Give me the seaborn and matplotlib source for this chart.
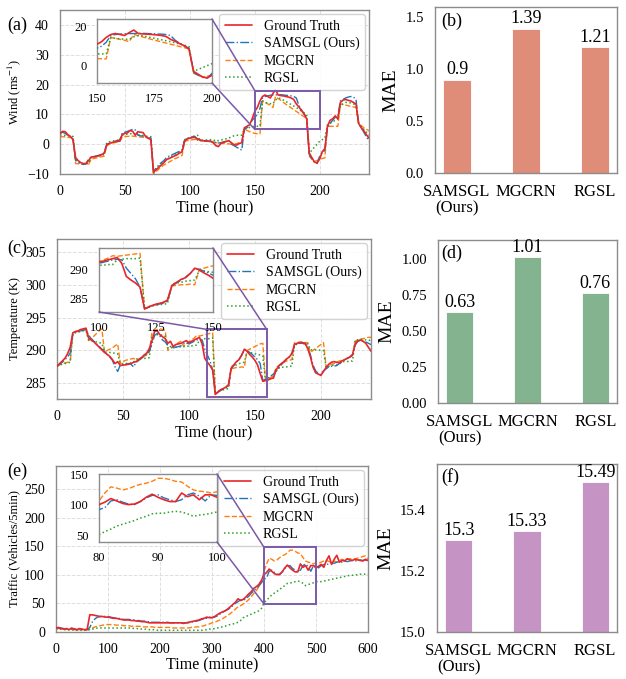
import numpy as np
import matplotlib
matplotlib.use("Agg")
import matplotlib.pyplot as plt
import seaborn as sns
from matplotlib.patches import Rectangle, ConnectionPatch

# ---------------- data ----------------
series_labels = ["Ground Truth", "SAMSGL (Ours)", "MGCRN", "RGSL"]
bar_models = ["SAMSGL\n(Ours)", "MGCRN", "RGSL"]

hours = np.arange(0, 240, 2)

wind_gt = [3.5, 4.3, 4.2, 3.2, 2.6, 1.5, -4.5, -5.5, -6.2, -6.5,
           -6.5, -5.5, -4.3, -4.2, -4.0, -3.9, -3.5, -3.0, -0.3, 0.3,
           0.5, 0.8, 1.0, 1.0, 3.3, 3.6, 3.8, 4.6, 4.3, 3.0,
           4.2, 4.0, 3.9, 2.5, 2.0, 1.5, -9.4, -8.6, -7.8, -7.0,
           -6.2, -5.2, -4.8, -4.4, -4.0, -3.6, -3.0, -2.5, 1.0, 1.8,
           2.0, 2.2, 2.3, 1.8, 1.4, 1.2, 1.1, 1.0, 0.9, 0.5,
           -0.5, -0.8, 0.3, 0.6, 0.9, 1.2, 0.5, -0.2, -0.3, 0.2,
           0.5, 5.5, 6.0, 6.5, 8.5, 11.0, 12.3, 14.5, 16.0, 16.5,
           16.0, 15.5, 17.0, 18.3, 16.5, 16.3, 16.2, 16.0, 15.8, 15.5,
           15.0, 13.5, 12.5, 11.3, 10.2, 8.5, -3.0, -4.5, -6.0, -6.3,
           -5.0, -2.5, -1.5, 6.0, 8.0, 8.5, 9.5, 8.5, 14.0, 14.8,
           15.0, 14.7, 14.5, 14.0, 13.5, 7.0, 5.5, 4.5, 3.2, 2.0]
wind_samsgl = [3.8, 4.0, 3.6, 3.0, 2.5, 2.0, -5.5, -6.0, -6.5, -6.8,
               -6.5, -5.0, -4.5, -4.3, -4.0, -3.7, -3.4, -3.0, 0.0, 0.3,
               0.6, 0.9, 1.2, 1.4, 3.8, 4.0, 4.3, 4.6, 5.0, 4.8,
               3.0, 2.8, 2.7, 2.5, 2.3, 2.0, -9.0, -8.0, -7.0, -6.2,
               -5.5, -4.5, -4.0, -3.6, -3.2, -2.8, -2.4, -2.0, 1.5, 2.0,
               2.3, 2.5, 2.6, 1.3, 1.2, 1.1, 1.0, 1.0, 1.0, 0.9,
               0.5, 0.4, 0.5, 0.8, 1.0, 1.2, 0.0, -0.5, -1.0, -1.5,
               -2.0, 5.0, 5.5, 6.5, 8.0, 9.0, 10.0, 12.0, 15.5, 16.0,
               16.2, 16.4, 16.5, 16.5, 16.6, 16.6, 16.5, 16.4, 16.3, 16.2,
               16.0, 15.5, 13.0, 11.5, 10.0, 9.0, -3.5, -5.0, -6.0, -6.5,
               -4.0, -3.0, -2.0, 5.5, 7.0, 8.0, 9.0, 9.5, 14.5, 15.0,
               15.5, 15.8, 16.0, 15.8, 15.0, 7.0, 5.5, 4.0, 2.5, 1.0]
wind_mgcrn = [2.5, 2.5, 2.4, 2.3, 2.2, 2.0, -6.5, -6.6, -6.7, -6.7,
              -6.8, -6.8, -5.0, -4.8, -4.6, -4.4, -4.2, -4.0, -0.5, 0.0,
              0.3, 0.5, 0.7, 0.8, 2.5, 2.6, 2.6, 2.7, 2.7, 2.6,
              2.5, 2.4, 2.3, 2.2, 2.1, 2.0, -10.0, -9.2, -8.4, -7.6,
              -7.0, -6.5, -6.0, -5.5, -5.0, -4.6, -4.2, -3.8, 1.0, 1.2,
              1.4, 1.5, 1.6, 1.6, 1.2, 1.1, 1.0, 1.0, 0.9, 0.8,
              0.5, 0.4, 0.3, 0.2, 0.2, 0.1, 0.0, 0.0, 0.2, 0.5,
              0.8, 5.0, 4.6, 4.2, 3.9, 3.6, 3.5, 3.4, 14.5, 14.0,
              13.5, 13.0, 12.3, 16.0, 15.3, 14.7, 14.0, 13.4, 12.8, 12.2,
              11.6, 11.0, 10.4, 9.8, 9.2, 8.5, -4.0, -5.0, -5.8, -5.5,
              -5.0, -4.8, -4.6, 6.0, 6.0, 6.0, 6.0, 6.0, 13.5, 13.3,
              13.1, 12.9, 12.7, 12.5, 12.3, 7.0, 6.2, 5.5, 5.0, 4.5]
wind_rgsl = [3.0, 3.0, 2.9, 2.8, 2.7, 2.6, -5.0, -6.0, -6.5, -6.6,
             -6.6, -6.5, -4.5, -4.3, -4.1, -3.9, -3.7, -3.5, 0.5, 0.8,
             1.0, 1.2, 1.3, 1.4, 3.0, 3.2, 3.4, 3.5, 3.5, 3.3,
             3.2, 3.0, 2.9, 2.7, 2.6, 2.5, -9.5, -8.5, -7.5, -6.5,
             -5.8, -5.2, -4.6, -4.0, -3.5, -3.0, -2.5, -2.0, 1.5, 1.8,
             2.0, 2.5, 2.8, 3.0, 1.2, 1.3, 1.4, 1.5, 1.5, 1.5,
             1.0, 1.2, 1.4, 1.6, 1.8, 2.0, 2.5, 2.8, 3.0, 3.0,
             3.0, 5.0, 5.3, 5.6, 5.8, 6.0, 6.0, 6.0, 14.5, 14.0,
             13.8, 13.6, 13.5, 14.8, 15.5, 15.3, 14.8, 14.3, 13.8, 13.3,
             12.8, 12.3, 11.7, 11.1, 10.5, 9.8, -3.0, -2.0, -1.0, 0.0,
             1.0, 1.5, 2.0, 6.5, 7.0, 7.5, 8.0, 8.5, 13.0, 13.5,
             14.0, 14.0, 13.8, 13.5, 13.0, 7.0, 6.0, 5.0, 4.0, 3.0]

temp_gt = [287.6, 288.0, 288.4, 288.8, 289.5, 290.5, 292.7, 292.9, 293.0, 293.2,
           293.3, 293.4, 291.9, 291.6, 291.3, 290.9, 290.5, 290.1, 289.7, 289.4,
           289.1, 288.6, 288.0, 288.3, 287.7, 287.8, 287.8, 287.9, 288.0, 288.2,
           288.3, 288.6, 288.9, 289.3, 289.6, 290.3, 291.5, 292.9, 293.0, 292.4,
           292.1, 291.8, 291.1, 291.4, 290.6, 290.9, 291.0, 291.1, 291.3, 291.5,
           291.2, 291.4, 291.6, 291.8, 292.0, 291.0, 288.8, 288.2, 287.7, 287.0,
           283.3, 283.7, 284.0, 284.2, 284.4, 284.8, 287.3, 287.8, 288.3, 288.6,
           289.3, 290.2, 289.9, 289.4, 289.0, 288.5, 287.8, 286.5, 285.3, 285.4,
           285.5, 285.7, 285.8, 287.0, 287.6, 288.0, 288.3, 288.7, 289.0, 289.5,
           290.9, 291.1, 291.2, 291.2, 291.1, 290.3, 289.1, 287.5, 286.6, 286.4,
           286.2, 286.8, 287.4, 287.9, 288.2, 288.3, 288.2, 288.1, 288.4, 288.6,
           288.8, 289.0, 289.4, 291.0, 291.5, 291.6, 291.4, 291.1, 290.5, 289.9]
temp_samsgl = [287.6, 287.9, 288.2, 288.6, 289.0, 289.6, 292.5, 292.8, 292.9, 293.0,
               293.1, 293.2, 292.3, 291.8, 291.4, 291.0, 290.6, 290.2, 289.8, 289.4,
               289.0, 288.5, 287.5, 286.8, 287.8, 287.8, 287.9, 288.0, 287.9, 287.5,
               288.2, 288.5, 288.8, 289.1, 289.4, 289.9, 291.0, 292.3, 292.6, 292.2,
               291.6, 291.3, 290.8, 290.6, 290.4, 290.5, 290.6, 290.7, 291.0, 291.2,
               291.0, 291.2, 291.4, 291.6, 291.7, 291.6, 290.2, 289.3, 288.4, 287.0,
               283.4, 283.6, 283.9, 284.1, 284.3, 284.6, 287.2, 287.7, 288.2, 288.7,
               289.3, 290.1, 290.0, 289.7, 289.4, 289.0, 288.6, 288.0, 285.4, 285.6,
               285.8, 286.1, 286.4, 286.8, 287.3, 287.8, 288.3, 288.7, 289.0, 289.6,
               290.6, 291.0, 291.1, 291.1, 291.0, 290.5, 289.4, 287.8, 286.9, 286.5,
               286.3, 286.9, 287.2, 287.5, 287.6, 287.6, 287.7, 288.0, 288.3, 288.6,
               288.8, 289.0, 289.3, 290.8, 291.4, 291.5, 291.4, 291.3, 291.1, 290.9]
temp_mgcrn = [287.6, 287.8, 288.0, 288.1, 288.2, 288.3, 292.6, 292.8, 292.9, 293.0,
              293.1, 293.2, 291.5, 291.8, 292.2, 292.6, 293.0, 293.3, 289.8, 290.0,
              290.2, 290.4, 290.7, 291.0, 288.0, 288.3, 288.5, 288.6, 288.7, 288.8,
              288.5, 288.7, 288.9, 289.1, 289.4, 289.7, 292.8, 293.1, 293.2, 293.3,
              293.2, 293.0, 290.0, 290.3, 290.6, 290.9, 291.2, 291.4, 290.6, 291.0,
              291.3, 291.6, 291.9, 292.3, 292.2, 292.3, 292.4, 292.5, 292.6, 292.7,
              283.3, 283.7, 284.0, 284.2, 284.4, 284.6, 287.2, 287.3, 287.4, 287.4,
              287.5, 287.4, 290.0, 290.2, 290.4, 290.6, 290.8, 291.0, 291.1, 285.5,
              285.7, 285.9, 286.1, 287.4, 287.7, 288.0, 288.2, 288.4, 288.5, 288.6,
              291.2, 291.2, 291.3, 291.3, 291.2, 291.2, 289.7, 290.0, 290.3, 290.6,
              290.9, 291.2, 287.5, 287.7, 287.9, 288.0, 288.2, 288.4, 288.5, 288.6,
              288.8, 289.0, 289.2, 291.4, 291.6, 291.7, 291.8, 291.9, 292.0, 292.0]
temp_rgsl = [287.6, 287.8, 287.9, 288.0, 288.1, 288.2, 292.6, 292.7, 292.8, 292.9,
             293.0, 293.0, 291.6, 291.5, 291.4, 291.3, 291.2, 291.1, 289.8, 289.7,
             289.7, 289.6, 289.6, 289.5, 288.0, 288.0, 288.0, 288.1, 288.1, 288.2,
             288.7, 288.7, 288.8, 288.8, 288.8, 288.9, 292.3, 292.4, 292.4, 292.4,
             292.3, 292.2, 290.4, 290.4, 290.5, 290.5, 290.5, 290.6, 290.6, 290.6,
             290.7, 290.7, 290.8, 290.8, 291.6, 291.7, 291.8, 291.8, 291.8, 291.9,
             283.4, 283.7, 283.9, 284.0, 284.1, 284.2, 287.5, 287.7, 287.8, 288.0,
             288.1, 288.2, 289.8, 289.7, 289.6, 289.5, 289.4, 289.3, 289.2, 285.5,
             285.6, 285.7, 285.8, 287.2, 287.3, 287.4, 287.5, 287.5, 287.6, 287.6,
             291.0, 291.1, 291.1, 291.1, 291.0, 291.0, 290.1, 290.1, 290.1, 290.1,
             290.0, 290.0, 287.4, 287.6, 287.7, 287.8, 287.8, 287.9, 288.3, 288.3,
             288.3, 288.4, 288.4, 291.6, 291.6, 291.7, 291.7, 291.6, 291.6, 291.5]

traffic_steps = np.arange(121)          # 5-minute steps
traffic_minutes = traffic_steps * 5

traffic_gt = [7, 8, 6, 5, 6, 4, 7, 5, 4, 6,
              5, 4, 5, 30, 30, 29, 28, 27, 27, 26,
              26, 25, 24, 24, 23, 22, 21, 21, 21, 20,
              20, 19, 19, 18, 18, 17, 16, 16, 16, 16,
              16, 16, 16, 16, 16, 16, 16, 16, 16, 15,
              16, 17, 18, 19, 20, 21, 23, 24, 26, 25,
              25, 27, 30, 33, 35, 37, 40, 44, 48, 52,
              58, 55, 57, 61, 66, 70, 76, 79, 83, 90,
              100, 104, 110, 106, 102, 100, 101, 105, 112, 117,
              112, 108, 105, 105, 119, 113, 116, 108, 116, 116,
              112, 115, 118, 113, 125, 133, 118, 127, 134, 122,
              125, 124, 128, 126, 125, 127, 126, 125, 124, 127,
              125]
traffic_samsgl = [8, 7, 7, 6, 5, 6, 5, 6, 4, 5,
                  5, 4, 4, 8, 18, 23, 26, 27, 28, 27,
                  27, 26, 25, 24, 24, 23, 22, 22, 22, 21,
                  21, 20, 20, 19, 19, 18, 18, 17, 17, 17,
                  17, 17, 17, 17, 16, 16, 16, 16, 16, 16,
                  16, 16, 17, 18, 19, 20, 22, 23, 24, 26,
                  25, 26, 28, 31, 34, 37, 39, 42, 46, 50,
                  53, 56, 55, 58, 62, 67, 72, 76, 80, 86,
                  92, 95, 106, 108, 104, 101, 100, 105, 111, 115,
                  116, 111, 108, 105, 108, 116, 119, 114, 106, 116,
                  115, 112, 116, 118, 117, 120, 121, 120, 122, 123,
                  122, 124, 123, 124, 125, 124, 125, 126, 125, 126,
                  124]
traffic_mgcrn = [6, 6, 5, 5, 5, 4, 5, 4, 4, 4,
                 4, 3, 4, 5, 7, 9, 10, 11, 12, 13,
                 13, 13, 13, 12, 12, 12, 11, 11, 11, 10,
                 10, 10, 10, 9, 9, 9, 9, 9, 8, 8,
                 8, 8, 8, 8, 8, 7, 7, 7, 7, 7,
                 7, 7, 8, 8, 9, 9, 10, 11, 13, 14,
                 16, 17, 19, 21, 23, 26, 29, 32, 36, 40,
                 44, 46, 49, 52, 56, 61, 67, 72, 79, 88,
                 106, 119, 129, 127, 124, 126, 130, 133, 135, 138,
                 143, 143, 141, 138, 137, 130, 124, 122, 121, 119,
                 121, 120, 122, 124, 125, 123, 122, 124, 122, 125,
                 127, 126, 127, 128, 127, 128, 129, 130, 132, 133,
                 128]
traffic_rgsl = [5, 5, 5, 4, 4, 4, 4, 3, 3, 3,
                3, 3, 3, 4, 5, 6, 7, 7, 7, 7,
                7, 7, 7, 7, 7, 7, 7, 7, 7, 7,
                6, 6, 6, 5, 5, 5, 4, 4, 4, 3,
                3, 3, 3, 3, 3, 3, 3, 3, 3, 3,
                3, 3, 3, 3, 3, 3, 3, 4, 4, 5,
                5, 6, 7, 8, 9, 10, 12, 13, 14, 15,
                17, 20, 25, 27, 29, 31, 33, 35, 37, 41,
                51, 56, 60, 65, 68, 71, 74, 78, 81, 85,
                86, 86, 88, 89, 88, 85, 81, 83, 84, 86,
                88, 88, 88, 89, 90, 91, 92, 93, 94, 95,
                96, 97, 98, 99, 99, 100, 100, 101, 101, 101,
                101]

mae_wind = [0.9, 1.39, 1.21]
mae_temp = [0.63, 1.01, 0.76]
mae_traffic = [15.3, 15.33, 15.49]

# ---------------- style ----------------
sns.set_theme(style="whitegrid")
plt.rcParams["font.family"] = ["Liberation Serif", "DejaVu Serif"]
plt.rcParams["mathtext.fontset"] = "stix"
plt.rcParams["axes.edgecolor"] = "#8c8c8c"
plt.rcParams["axes.linewidth"] = 1.0
plt.rcParams["grid.color"] = "#dedede"
plt.rcParams["grid.linestyle"] = "--"
plt.rcParams["grid.linewidth"] = 0.7
plt.rcParams["text.color"] = "black"
plt.rcParams["xtick.color"] = "black"
plt.rcParams["ytick.color"] = "black"
plt.rcParams["axes.labelcolor"] = "black"

W, H = 626, 679
fig = plt.figure(figsize=(W / 100, H / 100), dpi=100)


def rect(l, t, r, b):
    return [l / W, 1 - b / H, (r - l) / W, (b - t) / H]


colors = ["#e8262b", "#1f77b4", "#ff7f0e", "#2ca02c"]
styles = ["-", "-.", "--", ":"]
widths = [1.2, 1.0, 1.0, 1.1]
zorders = [4, 3, 2, 2]
purple = "#7b59a8"


def draw(ax, x, ys, labelled):
    for y, lab, c, ls, lw, z in zip(ys, series_labels, colors, styles, widths, zorders):
        sns.lineplot(x=x, y=y, ax=ax, color=c, linestyle=ls, linewidth=lw,
                     label=lab if labelled else None, zorder=z, legend=False)


def line_panel(axrect, insrect, x, ys, xlim, ylim, xticks, yticks, xlabel, ylabel,
               in_x, in_xlim, in_ylim, in_xticks, in_yticks, box, links, tag, tagpos):
    ax = fig.add_axes(axrect)
    draw(ax, x, ys, True)
    ax.set_xlim(*xlim)
    ax.set_ylim(*ylim)
    ax.set_xticks(xticks)
    ax.set_yticks(yticks)
    ax.tick_params(labelsize=10, pad=2)
    ax.set_xlabel(xlabel, fontsize=11.5, labelpad=1)
    ax.set_ylabel(ylabel, fontsize=9, labelpad=3)
    h, l = ax.get_legend_handles_labels()
    ax.legend(h, l, loc="upper right", fontsize=10, labelspacing=0.3,
              borderpad=0.4, handlelength=2.0, framealpha=0.85,
              edgecolor="#cccccc", borderaxespad=0.3)
    (bx0, by0, bx1, by1) = box
    ax.add_patch(Rectangle((bx0, by0), bx1 - bx0, by1 - by0, fill=False,
                           ec=purple, lw=1.4, zorder=6))
    ins = fig.add_axes(insrect)
    ins.set_facecolor("white")
    draw(ins, in_x, ys, False)
    ins.set_xlim(*in_xlim)
    ins.set_ylim(*in_ylim)
    ins.set_xticks(in_xticks)
    ins.set_yticks(in_yticks)
    ins.grid(False)
    ins.tick_params(labelsize=9, pad=1.5)
    ins.set_xlabel("")
    ins.set_ylabel("")
    for (ia, ba) in links:
        con = ConnectionPatch(xyA=ia, coordsA=ins.transAxes, xyB=ba,
                              coordsB=ax.transData, color=purple, lw=1.1)
        fig.add_artist(con)
    fig.text(tagpos[0] / W, 1 - tagpos[1] / H, tag, fontsize=13,
             ha="center", va="center")
    return ax


# (a) wind
line_panel(rect(60, 10, 369, 174), rect(97, 19, 212, 83), hours,
           [wind_gt, wind_samsgl, wind_mgcrn, wind_rgsl],
           (0, 238), (-10, 45), range(0, 201, 50), range(-10, 41, 10),
           "Time (hour)", "Wind (ms$^{-1}$)",
           hours, (150, 200), (-9, 24), [150, 175, 200], [0, 20],
           (150, 5, 200, 18),
           [((1, 1), (150, 18)), ((1, 0), (150, 5))], "(a)", (17, 25))

# (c) temperature
line_panel(rect(57, 239, 371, 399), rect(99, 248, 213, 312), hours,
           [temp_gt, temp_samsgl, temp_mgcrn, temp_rgsl],
           (0, 238), (282.6, 307), range(0, 201, 50), range(285, 306, 5),
           "Time (hour)", "Temperature (K)",
           hours, (100, 150), (282.8, 293.6), [100, 125, 150], [285, 290],
           (114, 282.9, 159, 293.2),
           [((1, 1), (159, 293.2)), ((0, 0), (114, 293.2))], "(c)", (17, 248))

# (e) traffic
line_panel(rect(56, 466, 368, 632), rect(99, 474, 217, 542), traffic_minutes,
           [traffic_gt, traffic_samsgl, traffic_mgcrn, traffic_rgsl],
           (0, 600), (0, 290), range(0, 601, 100), range(0, 251, 50),
           "Time (minute)", "Traffic (Vehicles/5min)",
           traffic_steps, (80, 100), (39, 150), [80, 90, 100], [50, 100, 150],
           (400, 49, 500, 148),
           [((1, 1), (400, 148)), ((1, 0), (400, 49))], "(e)", (17, 471))


# ---------------- bars ----------------
def bar_panel(axrect, vals, color, ylim, yticks, tag, tagpos):
    ax = fig.add_axes(axrect)
    sns.barplot(x=bar_models, y=vals, ax=ax, color=color, width=0.4,
                saturation=1, edgecolor="white", linewidth=0.6)
    ax.set_xlim(-0.32, 2.32)
    ax.set_ylim(*ylim)
    ax.set_yticks(yticks)
    ax.grid(False)
    ax.tick_params(axis="x", labelsize=12, pad=2)
    for t in ax.get_xticklabels():
        t.set_linespacing(1.05)
    ax.tick_params(axis="y", labelsize=10.5, pad=2)
    ax.set_ylabel("MAE", fontsize=14)
    ax.set_xlabel("")
    ax.bar_label(ax.containers[0], labels=[str(v) for v in vals],
                 fontsize=13, padding=1)
    fig.text(tagpos[0] / W, 1 - tagpos[1] / H, tag, fontsize=13,
             ha="center", va="center")


bar_panel(rect(435, 7, 617, 173), mae_wind, "#df8c78", (0, 1.6),
          [0.0, 0.5, 1.0, 1.5], "(b)", (452, 21))
bar_panel(rect(438, 240, 617, 403), mae_temp, "#83b38f", (0, 1.13),
          [0.0, 0.25, 0.5, 0.75, 1.0], "(d)", (452, 253))
bar_panel(rect(437, 464, 617, 632), mae_traffic, "#c594c5", (15.0, 15.55),
          [15.0, 15.2, 15.4], "(f)", (450, 477))

fig.savefig("out.png", dpi=100)
